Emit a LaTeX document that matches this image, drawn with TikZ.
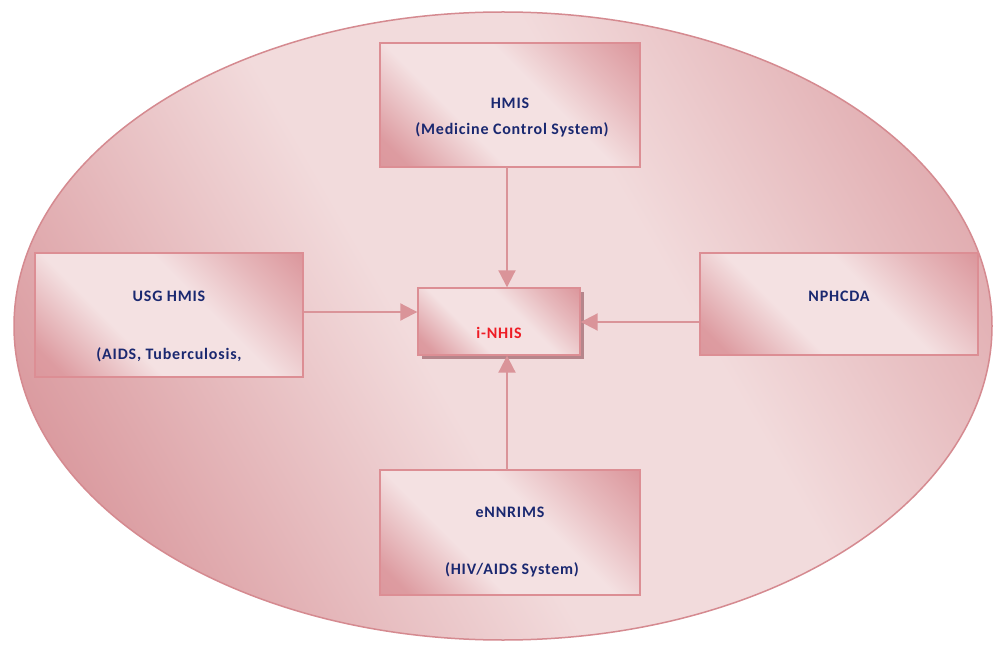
\documentclass[tikz,border=0pt]{standalone}
\usepackage{fontspec}
\setmainfont{Carlito}
\usetikzlibrary{arrows.meta,shadows}
\definecolor{bxL}{HTML}{F4E1E2}
\definecolor{bxD}{HTML}{D98F95}
\definecolor{elL}{HTML}{F2DBDC}
\definecolor{elD}{HTML}{D9979C}
\definecolor{elB}{HTML}{D58A90}
\definecolor{bxB}{HTML}{DC8E94}
\definecolor{arrC}{HTML}{DA9499}
\definecolor{navy}{HTML}{1A2870}
\definecolor{redT}{HTML}{EE1C25}
\definecolor{shd}{HTML}{A87077}
\pgfdeclarehorizontalshading{boxsh}{100bp}{color(0bp)=(bxD); color(20bp)=(bxD!85!bxL); color(38bp)=(bxL); color(58bp)=(bxL); color(72bp)=(bxD!50!bxL); color(85bp)=(bxD!90!bxL); color(100bp)=(bxD)}
\pgfdeclarehorizontalshading{ellsh}{100bp}{color(0bp)=(elD); color(22bp)=(elD); color(45bp)=(elL); color(60bp)=(elL); color(80bp)=(elD!80!elL); color(100bp)=(elD)}
\tikzset{
  box/.style={draw=bxB, line width=1.4pt, shading=boxsh, shading angle=45, rectangle, inner sep=0pt},
  txt/.style={font=\fontsize{16}{19}\bfseries\addfontfeature{LetterSpace=5}, text=navy, inner sep=0pt},
  arr/.style={draw=arrC, line width=2pt, -{Triangle[length=17pt,width=17pt]}}
}
\begin{document}
\begin{tikzpicture}[x=1pt,y=-1pt]
\useasboundingbox (0,0) rectangle (994,647);
\fill[white] (0,0) rectangle (994,647);
\path[draw=elB, line width=1.5pt, shading=ellsh, shading angle=30] (503,326) ellipse [x radius=489, y radius=314];

\node[box, minimum width=260pt, minimum height=124pt] (hmis) at (510,105) {};
\node[box, minimum width=268pt, minimum height=124pt] (usg) at (169,315) {};
\node[box, minimum width=278pt, minimum height=102pt] (nph) at (839,304) {};
\node[box, minimum width=260pt, minimum height=125pt] (enn) at (510,532.5) {};
\node[box, minimum width=162pt, minimum height=67pt, drop shadow={shadow xshift=4pt, shadow yshift=-4pt, fill=shd, opacity=0.8}] (inhis) at (499,321.5) {};

\node[txt] (hmisA) at (510,103) {HMIS};
\node[txt] (hmisB) at (512,130) {(Medicine Control System)};
\node[txt] (usgA) at (169,296) {USG HMIS};
\node[txt] (usgB) at (169,355) {(AIDS, Tuberculosis,};
\node[txt] (nphA) at (839,296) {NPHCDA};
\node[txt] (ennA) at (510,512) {eNNRIMS};
\node[txt] (ennB) at (512,570) {(HIV/AIDS System)};
\node[txt, text=redT] (inhisA) at (499,333) {i-NHIS};

\draw[arr] (507,167) coordinate (hs) -- (hs |- inhis.north);
\draw[arr] (usg.east |- 0,312) coordinate (us) -- (us -| inhis.west);
\draw[arr] (nph.west |- 0,322) coordinate (ns) -- (ns -| inhis.east);
\draw[arr] (507,470) coordinate (es) -- (es |- inhis.south);
\end{tikzpicture}
\end{document}
